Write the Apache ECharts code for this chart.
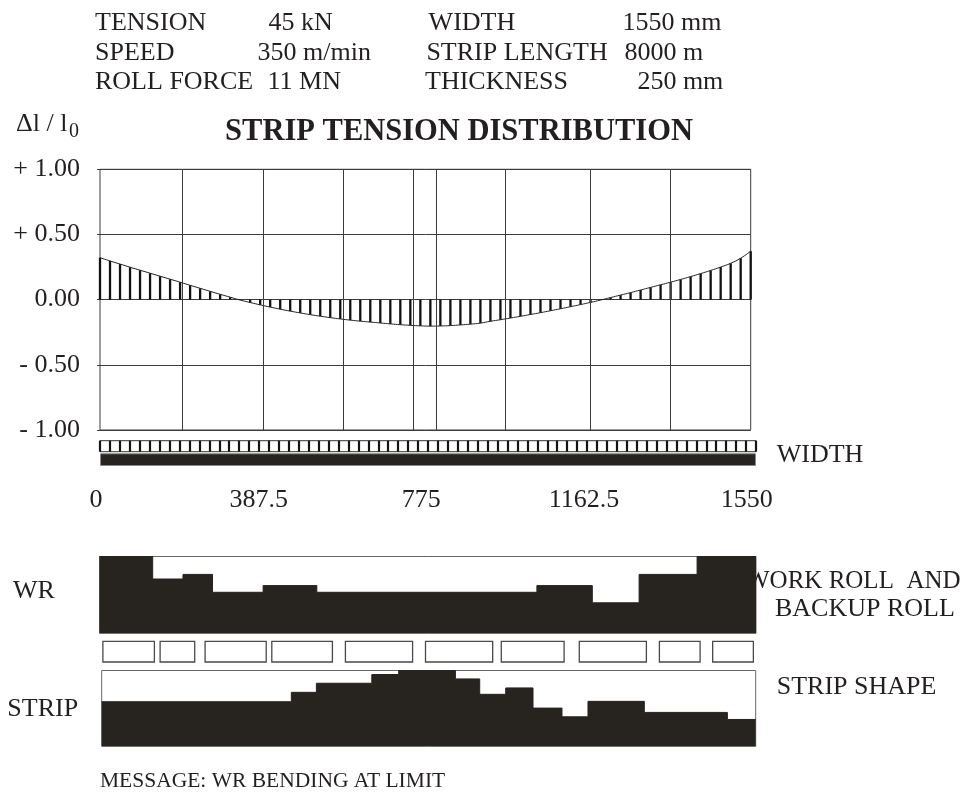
<!DOCTYPE html>
<html>
<head>
<meta charset="utf-8">
<script src="https://cdn.jsdelivr.net/npm/echarts@6/dist/echarts.min.js"></script>
<style>html,body{margin:0;padding:0;background:#fff}#c{width:980px;height:792px}</style>
</head>
<body>
<div id="c"></div>
<script>
// ---------------- data ----------------
const paramNames  = ['TENSION', 'SPEED', 'ROLL FORCE', 'WIDTH', 'STRIP LENGTH', 'THICKNESS'];
const paramValues = ['45 kN', '350 m/min', '11 MN', '1550 mm', '8000 m', '250 mm'];
const chartTitle = 'STRIP TENSION DISTRIBUTION';
const yAxisName = 'Δl / l';
const yAxisNameSub = '0';
const stripWidthMM = 1550;
const xTicks = [0, 387.5, 775, 1162.5, 1550];
const xTickLabels = ['0', '387.5', '775', '1162.5', '1550'];
const yTicks = [-1, -0.5, 0, 0.5, 1];
const yTickLabels = ['- 1.00', '- 0.50', '0.00', '+ 0.50', '+ 1.00'];
// relative elongation at the 66 measuring stations across the width
const strain = [
  0.322, 0.297, 0.273, 0.249, 0.226, 0.203, 0.180, 0.157, 0.134, 0.110,
  0.087, 0.064, 0.041, 0.019, -0.003, -0.022, -0.040, -0.057, -0.073, -0.088,
  -0.102, -0.115, -0.127, -0.138, -0.148, -0.157, -0.165, -0.172, -0.179, -0.186,
  -0.192, -0.197, -0.201, -0.203, -0.202, -0.199, -0.194, -0.188, -0.180, -0.166,
  -0.154, -0.141, -0.128, -0.114, -0.100, -0.085, -0.070, -0.054, -0.038, -0.021,
  -0.003, 0.016, 0.035, 0.054, 0.074, 0.094, 0.114, 0.134, 0.155, 0.177,
  0.200, 0.224, 0.250, 0.279, 0.318, 0.372
];
const zoneLines = [197, 388, 580, 745, 802, 966, 1168, 1359];
const measureZoneCount = 66;
const wrEdges  = [0, 125.6, 197.1, 266.8, 386.3, 513.1, 1032.7, 1163.5, 1274.0, 1410.9, 1550];
const wrLevels = [100, 70.7, 76.7, 53.4, 62.1, 53.4, 62.1, 39.7, 76.7, 100];
const rollSegStart = [8.0, 143.1, 249.3, 406.8, 580.6, 769.7, 948.6, 1132.8, 1321.9, 1447.7];
const rollSegEnd   = [129.6, 224.8, 393.6, 549.9, 739.2, 928.3, 1096.9, 1291.2, 1418.0, 1543.8];
const stripEdges  = [0, 449.4, 508.8, 640.2, 703.9, 838.3, 895.9, 957.5, 1022.2, 1090.9, 1152.5, 1286.0, 1482.9, 1550];
const stripLevels = [58.8, 71.2, 83.2, 94.7, 100, 88.9, 68.6, 77.0, 50.4, 38.9, 59.3, 44.7, 35.4];
const labelWidth = 'WIDTH';
const labelRoll1 = 'WORK ROLL  AND';
const labelRoll2 = 'BACKUP ROLL';
const labelShape = 'STRIP SHAPE';
const labelWR = 'WR';
const labelStrip = 'STRIP';
const message = 'MESSAGE: WR BENDING AT LIMIT';

// ---------------- layout / style ----------------
const FONT = 'Liberation Serif';
const INK = '#231f20';
const FILL = '#27231f';
const LINE = '#3c3c3c';

const stations = strain.map((v, i) => [i * stripWidthMM / (strain.length - 1), v]);
function stepData(edges, levels) {
  const d = levels.map((v, i) => [edges[i], v]);
  d.push([edges[edges.length - 1], levels[levels.length - 1]]);
  return d;
}
function txt(text, x, y, size, extra) {
  return {
    type: 'text', x: x, y: y, silent: true,
    style: Object.assign({ text: text, fontFamily: FONT, fontSize: size, fill: INK, align: 'left', verticalAlign: 'middle' }, extra || {})
  };
}

const headerX = [[95, 268.4], [95, 257.5], [95, 267.5], [428.6, 622.6], [426.4, 624.4], [425, 637.4]];
const headerY = [23.3, 53.3, 81.7, 23.3, 53.3, 81.7];
const graphics = [];
paramNames.forEach((n, i) => {
  graphics.push(txt(n, headerX[i][0], headerY[i], 26));
  graphics.push(txt(paramValues[i], headerX[i][1], headerY[i], 26));
});
graphics.push(txt(chartTitle, 459, 131.7, 30.5, { fontWeight: 'bold', align: 'center' }));
graphics.push(txt(yAxisName, 16, 124, 26));
graphics.push(txt(yAxisNameSub, 69, 132, 20));
graphics.push(txt(labelWidth, 776.7, 455, 26));
graphics.push(txt(labelRoll1, 746, 581.7, 25));
graphics.push(txt(labelRoll2, 775, 609, 26));
graphics.push(txt(labelShape, 776.7, 686.7, 26));
graphics.push(txt(labelWR, 13, 591, 26));
graphics.push(txt(labelStrip, 7.3, 709, 26));
graphics.push(txt(message, 100, 781, 21.5));

const chart = echarts.init(document.getElementById('c'), null, { renderer: 'canvas', width: 980, height: 792 });
const option = {
  animation: false,
  backgroundColor: '#ffffff',
  graphic: { elements: graphics },
  grid: [
    { left: 100, top: 169.3, width: 650.7, height: 260.7, show: true, borderColor: LINE, borderWidth: 1, containLabel: false },
    { left: 100, top: 440.7, width: 656, height: 11, show: true, borderColor: '#333', borderWidth: 1, backgroundColor: '#fff' },
    { left: 100, top: 453.3, width: 656, height: 12.7 },
    { left: 99.5, top: 556.5, width: 656.5, height: 76.8, show: true, borderColor: '#666', borderWidth: 1 },
    { left: 99.5, top: 641.3, width: 656.5, height: 20.7 },
    { left: 101.7, top: 670.5, width: 654, height: 75.8, show: true, borderColor: '#666', borderWidth: 1 }
  ],
  xAxis: [
    { gridIndex: 0, type: 'value', min: 0, max: stripWidthMM, interval: 387.5,
      axisLine: { show: false }, axisTick: { show: false }, splitLine: { show: false },
      axisLabel: { show: true, margin: 57, fontFamily: FONT, fontSize: 26, color: INK, padding: [0, 8, 0, 0],
        formatter: v => { const k = xTicks.indexOf(v); return k >= 0 ? xTickLabels[k] : ''; } } },
    { gridIndex: 0, type: 'value', min: 0, max: stripWidthMM, position: 'bottom',
      axisLine: { show: false }, axisLabel: { show: false }, splitLine: { show: false },
      axisTick: { show: true, length: 2, customValues: zoneLines, lineStyle: { color: LINE } } },
    { gridIndex: 1, type: 'value', min: 0, max: measureZoneCount, interval: 1,
      axisLine: { show: false }, axisTick: { show: false }, axisLabel: { show: false },
      splitLine: { show: true, lineStyle: { color: '#141414', width: 2.2 } } },
    { gridIndex: 2, type: 'value', min: 0, max: stripWidthMM, show: false },
    { gridIndex: 3, type: 'value', min: 0, max: stripWidthMM, show: false },
    { gridIndex: 4, type: 'value', min: 0, max: stripWidthMM, show: false },
    { gridIndex: 5, type: 'value', min: 0, max: stripWidthMM, show: false }
  ],
  yAxis: [
    { gridIndex: 0, type: 'value', min: -1, max: 1, interval: 0.5,
      axisLine: { show: false },
      axisTick: { show: true, length: 3, lineStyle: { color: LINE } },
      splitLine: { show: true, lineStyle: { color: LINE, width: 1 } },
      axisLabel: { margin: 20, fontFamily: FONT, fontSize: 26, color: INK,
        formatter: v => { const k = yTicks.findIndex(t => Math.abs(t - v) < 1e-9); return k >= 0 ? yTickLabels[k] : ''; } } },
    { gridIndex: 0, type: 'value', min: -1, max: 1, interval: 0.5, position: 'right',
      axisLine: { show: false }, axisLabel: { show: false }, splitLine: { show: false },
      axisTick: { show: true, length: 3, lineStyle: { color: LINE } } },
    { gridIndex: 1, type: 'value', min: 0, max: 1, show: false },
    { gridIndex: 2, type: 'category', data: ['strip'], show: false },
    { gridIndex: 3, type: 'value', min: 0, max: 100, show: false },
    { gridIndex: 4, type: 'value', min: 0, max: 1, show: false },
    { gridIndex: 5, type: 'value', min: 0, max: 100, show: false }
  ],
  series: [
    { type: 'bar', xAxisIndex: 0, yAxisIndex: 0, data: stations, barWidth: 2.3,
      itemStyle: { color: '#111' }, silent: true },
    { type: 'line', xAxisIndex: 0, yAxisIndex: 0, data: stations, smooth: true, showSymbol: false,
      lineStyle: { color: '#222', width: 1 }, silent: true,
      markLine: { silent: true, symbol: ['none', 'none'], label: { show: false },
        lineStyle: { color: LINE, width: 1, type: 'solid' },
        data: zoneLines.map(v => ({ xAxis: v })) } },
    { type: 'bar', xAxisIndex: 3, yAxisIndex: 3, data: [stripWidthMM], barWidth: '100%',
      itemStyle: { color: FILL, borderColor: '#8a8a8a', borderWidth: 1 }, silent: true },
    { type: 'line', xAxisIndex: 4, yAxisIndex: 4, data: stepData(wrEdges, wrLevels), step: 'end',
      showSymbol: false, lineStyle: { color: FILL, width: 1 }, areaStyle: { color: FILL, opacity: 1 }, silent: true },
    { type: 'custom', xAxisIndex: 5, yAxisIndex: 5, silent: true,
      data: rollSegStart.map((s, i) => [s, rollSegEnd[i]]),
      encode: { x: [0, 1] },
      renderItem: (params, api) => {
        const p0 = api.coord([api.value(0), 1]);
        const p1 = api.coord([api.value(1), 0]);
        return { type: 'rect', shape: { x: p0[0], y: p0[1], width: p1[0] - p0[0], height: p1[1] - p0[1] },
          style: { fill: '#fff', stroke: '#4a4a4a', lineWidth: 1.3 } };
      } },
    { type: 'line', xAxisIndex: 6, yAxisIndex: 6, data: stepData(stripEdges, stripLevels), step: 'end',
      showSymbol: false, lineStyle: { color: FILL, width: 1 }, areaStyle: { color: FILL, opacity: 1 }, silent: true }
  ]
};
chart.setOption(option);
</script>
</body>
</html>
